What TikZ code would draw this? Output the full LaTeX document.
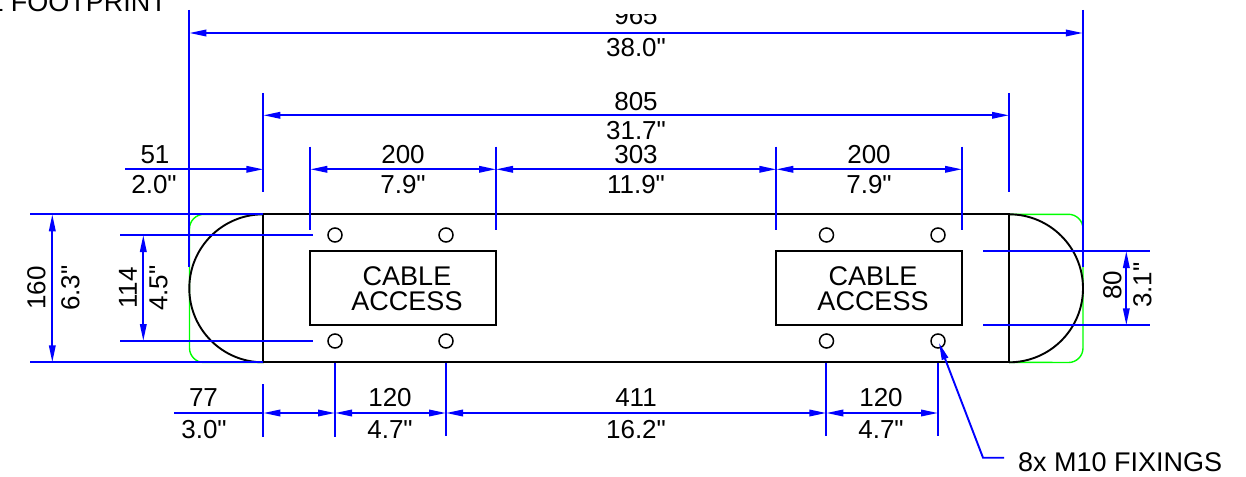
\documentclass[tikz,border=0pt]{standalone}
\usepackage{fontspec}
\setmainfont[Ligatures=TeXOff]{Liberation Sans}
\usetikzlibrary{arrows.meta}

\begin{document}
\begin{tikzpicture}
[x=1pt,y=-1pt,%
  dimLine/.style={color=blue,line width=1.9pt},%
  dimArrow/.style={dimLine,{Triangle[length=17pt,width=6.5pt]}-{Triangle[length=17pt,width=6.5pt]}},%
  endArrow/.style={dimLine,-{Triangle[length=17pt,width=6.5pt]}},%
  bodyLine/.style={color=black,line width=1.9pt},%
  greenLine/.style={color=green,line width=1.4pt},%
  holeNode/.style={shape=circle,draw,line width=1.5pt,minimum size=14pt,inner sep=0pt},%
  dimText/.style={inner sep=0pt,text height=18.5pt,text depth=0pt,font=\fontsize{26}{26}\selectfont},%
  boxText/.style={inner sep=0pt,text height=19pt,text depth=0pt,font=\fontsize{27}{27}\selectfont}]
\useasboundingbox (0,0) rectangle (1246,476);
\clip (0,0) rectangle (1246,476);
%% footprint outline
\draw[greenLine] (263.3,214.3) -- (204,214.3) arc[start angle=-90,end angle=-180,radius=14.5]
  -- (189.5,348) arc[start angle=180,end angle=90,radius=14.5] -- (263.3,362.3);
\draw[greenLine] (1009,214.3) -- (1068.5,214.3) arc[start angle=-90,end angle=0,radius=14.5]
  -- (1083,348) arc[start angle=0,end angle=90,radius=14.5] -- (1009,362.3);
%% set up the body
\node (bodyTL) at (263.3,214.3) [coordinate] {};
\node (bodyBL) at (263.3,362.3) [coordinate] {};
\node (bodyTR) at (1009,214.3) [coordinate] {};
\node (bodyBR) at (1009,362.3) [coordinate] {};
\draw[bodyLine] (bodyTL) -- (bodyTR) -- (bodyBR) -- (bodyBL) -- cycle;
\draw[bodyLine] (bodyTL) arc[start angle=-90,end angle=-270,x radius=74,y radius=74];
\draw[bodyLine] (bodyTR) arc[start angle=-90,end angle=90,x radius=74,y radius=74];
%% cable access boxes
\foreach \nodename/\xa/\xb/\xt in {boxL/310.3/496/407, boxR/776.3/962/873}
{
  \draw[bodyLine] (\xa,251) rectangle (\xb,325.3);
  \node (\nodename a) at (\xt,275.5) [boxText] {CABLE};
  \node (\nodename b) at (\xt,300.5) [boxText] {ACCESS};
}
%% draw the holes
\foreach \nodename/\x/\y in {holeA/335/235, holeB/446/235, holeC/826.5/235, holeD/938/235,
  holeE/335/341, holeF/446/341, holeG/826.5/341, holeH/938/341}
{
  \node (\nodename) at (\x,\y) [holeNode] {};
}
%% extension lines
\foreach \nodename/\xa/\ya/\xb/\yb in {extA/189.3/10/189.3/267, extB/1082.8/10/1082.8/267,
  extC/263.3/93/263.3/192, extD/1009/93/1009/192,
  extE/310.3/146.5/310.3/229.5, extF/496/146.5/496/229.5,
  extG/776.3/146.5/776.3/229.5, extH/962/146.5/962/229.5,
  extI/30/214.3/263.3/214.3, extJ/30/362.3/263.3/362.3,
  extK/120/235/313/235, extL/120/341/313/341,
  extM/983/251/1149.5/251, extN/983/325.3/1149.5/325.3,
  extO/263.3/384/263.3/436.5, extP/335/363/335/436.5, extQ/446/363/446/436,
  extR/826.3/363/826.3/436, extS/938/363/938/436}
{
  \coordinate (\nodename a) at (\xa,\ya);
  \coordinate (\nodename b) at (\xb,\yb);
  \draw[dimLine] (\nodename a) -- (\nodename b);
}
%% dimension lines
\foreach \nodename/\xa/\ya/\xb/\yb in {dimA/189.3/33/1082.8/33, dimB/263.3/115.3/1009/115.3,
  dimC/310.3/169.3/496/169.3, dimD/496/169.3/776.3/169.3, dimE/776.3/169.3/962/169.3,
  dimF/52.3/214.3/52.3/362.3, dimG/143.3/235/143.3/341, dimH/1126.3/251/1126.3/325.3,
  dimI/263.3/413/335/413, dimJ/335/413/446/413, dimK/446/413/826.3/413, dimL/826.3/413/938/413}
{
  \coordinate (\nodename a) at (\xa,\ya);
  \coordinate (\nodename b) at (\xb,\yb);
  \draw[dimArrow] (\nodename a) -- (\nodename b);
}
\coordinate (tailA) at (125,169.3);
\draw[endArrow] (tailA) -- (extCa |- tailA);
\coordinate (tailB) at (174,413);
\draw[dimLine] (tailB) -- (extOa |- tailB);
%% upright labels
\foreach \nodename/\x/\y/\txt in {lblA/636/47.7/{38.0"}, lblB/636/101/805, lblC/636/130/{31.7"},
  lblD/155/154/51, lblE/154/184.7/{2.0"}, lblF/403/154/200, lblG/403/184.7/{7.9"},
  lblH/636/154/303, lblI/636/184.7/{11.9"}, lblJ/869/154/200, lblK/869/184.7/{7.9"},
  lblL/203.5/397.7/77, lblM/204/428.8/{3.0"}, lblN/390/397.7/120, lblO/390/428.8/{4.7"},
  lblP/636/397.7/411, lblQ/636/428.8/{16.2"}, lblR/881/397.7/120, lblS/881/428.8/{4.7"}}
{
  \node (\nodename) at (\x,\y) [dimText] {\txt};
}
%% turned labels
\foreach \nodename/\x/\y/\txt in {lblT/36/288/160, lblU/70/288/{6.3"}, lblV/127.5/288/114,
  lblW/158/288/{4.5"}, lblX/1112/285/80, lblY/1142/285/{3.1"}}
{
  \node (\nodename) at (\x,\y) [dimText,rotate=90] {\txt};
}
%% labels cut by the top of the sheet
\begin{scope}
  \clip (600,15) rectangle (680,30);
  \node (lblTop) at (636,15.5) [dimText] {965};
\end{scope}
\node (lblFoot) at (167,12) [boxText,anchor=base east] {L FOOTPRINT};
%% fixings leader
\coordinate (leadA) at (983,457.7);
\coordinate (leadB) at (1004,457.7);
\node (lblFix) at (1018,461.5) [boxText,anchor=west] {8x M10 FIXINGS};
\draw[endArrow] (leadB) -- (leadA) -- (939,343);
\end{tikzpicture}
\end{document}
